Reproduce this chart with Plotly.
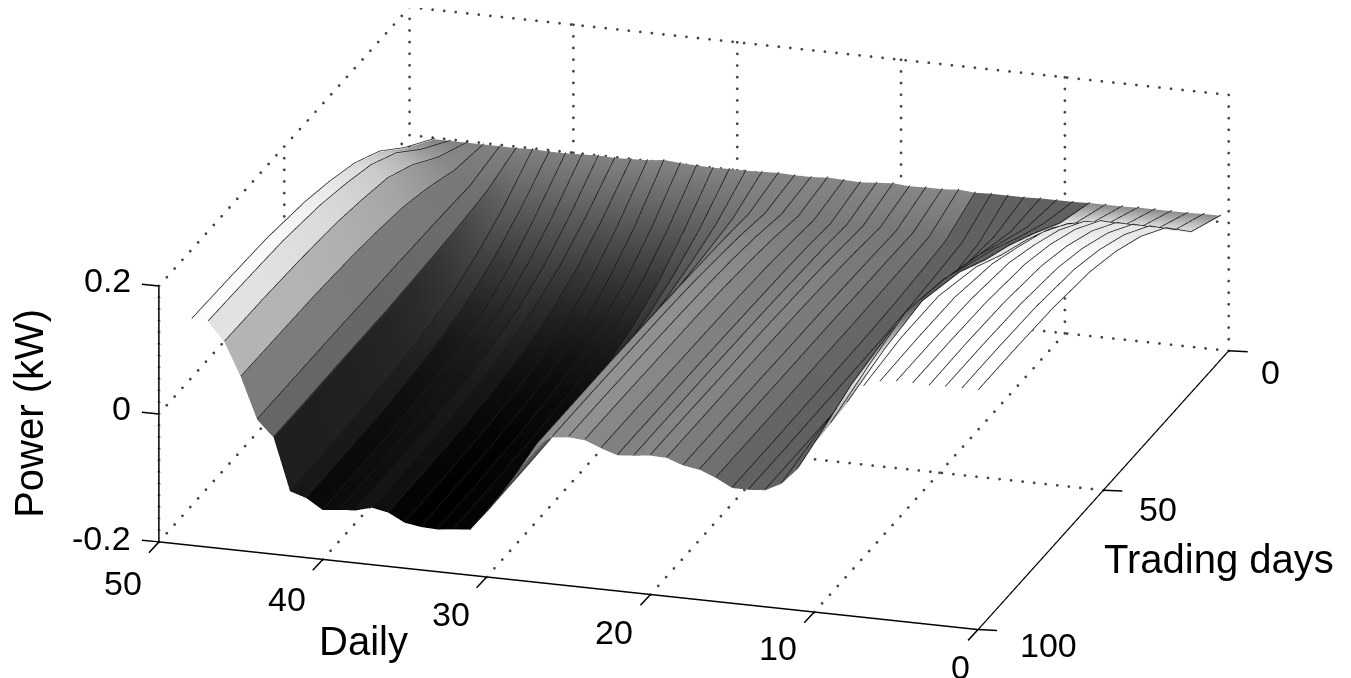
import numpy as np
import plotly.graph_objects as go

daily = list(range(49))
trading = [3, 15, 25, 35, 45, 55, 70, 85, 100]

z_y6 = [.024,.024,.023,.023,.023,.023,.022,.022,.022,.021,.021,.021,.020,.020,.020,.019,.021,.019,.019,.018,.020,.018,.016,.017,.018,.016,.016,.017,.016,.015,.015,.014,.015,.016,.018,.015,.014,.013,.014,.013,.012,.012,.013,.012,.012,.012,.012,.012,.012]
z_y15 = [.050,.050,.050,.050,.050,.050,.048,.045,.042,.038,.030,.020,.010,-.005,-.006,-.006,-.002,.001,.002,.004,.005,.004,.003,.006,.008,.009,.008,.004,-.007,-.018,-.028,-.036,-.037,-.038,-.037,-.036,-.032,-.031,-.033,-.034,-.034,-.030,-.028,-.005,.002,.022,.040,.050,.050]
z_y25 = [.100,.100,.100,.100,.100,.096,.090,.080,.070,.060,.050,.035,.015,-.010,-.011,-.011,-.004,.002,.004,.009,.009,.008,.007,.011,.017,.018,.016,.008,-.014,-.035,-.054,-.071,-.072,-.074,-.073,-.071,-.064,-.061,-.065,-.066,-.068,-.059,-.054,-.010,.004,.040,.072,.088,.088]
z_y35 = [.130,.130,.130,.130,.130,.126,.120,.105,.095,.085,.072,.050,.020,-.013,-.015,-.015,-.005,.002,.005,.012,.013,.010,.009,.015,.022,.024,.021,.010,-.019,-.047,-.073,-.095,-.097,-.099,-.098,-.095,-.086,-.082,-.087,-.089,-.091,-.079,-.073,-.013,.005,.053,.095,.113,.113]
z_y45 = [.150,.150,.150,.150,.150,.146,.140,.125,.115,.105,.088,.060,.030,-.015,-.017,-.017,-.006,.003,.006,.014,.014,.012,.010,.017,.026,.027,.025,.012,-.022,-.054,-.084,-.110,-.111,-.114,-.113,-.110,-.099,-.094,-.100,-.102,-.105,-.091,-.084,-.015,.006,.060,.105,.127,.128]
z_y55 = [.163,.163,.163,.163,.163,.162,.158,.150,.140,.125,.100,.070,.030,-.017,-.018,-.018,-.006,.003,.006,.015,.016,.013,.011,.018,.028,.029,.027,.013,-.024,-.059,-.091,-.119,-.121,-.123,-.122,-.119,-.107,-.102,-.109,-.110,-.113,-.098,-.091,-.017,.006,.065,.113,.138,.139]
z_y70 = [.171,.171,.171,.171,.171,.171,.171,.170,.160,.140,.105,.065,.020,-.017,-.019,-.019,-.007,.003,.007,.016,.016,.014,.012,.019,.029,.031,.028,.014,-.025,-.062,-.096,-.125,-.127,-.130,-.129,-.125,-.113,-.108,-.114,-.116,-.119,-.104,-.096,-.017,.007,.069,.119,.147,.148]
z_y85 = [.173,.173,.173,.173,.173,.173,.172,.170,.150,.120,.090,.045,.010,-.018,-.020,-.020,-.007,.003,.007,.016,.017,.014,.012,.020,.030,.032,.029,.014,-.026,-.063,-.098,-.128,-.130,-.133,-.132,-.128,-.115,-.110,-.117,-.119,-.122,-.106,-.098,-.018,.007,.070,.122,.150,.151]
z_y100 = [.173,.173,.173,.172,.173,.173,.170,.160,.132,.097,.063,.021,-.005,-.018,-.020,-.020,-.007,.003,.007,.016,.017,.014,.012,.020,.030,.032,.029,.014,-.026,-.064,-.099,-.129,-.131,-.134,-.133,-.129,-.116,-.111,-.118,-.120,-.123,-.107,-.099,-.018,.007,.071,.123,.152,.153]

fold_columns = [8, 9, 10, 11, 12, 13, 14]
fold_shade = 0.38
white_columns = [0, 1, 2, 3, 4, 5, 6, 7]
white_shade = 0.9

x_ticks = [0, 10, 20, 30, 40, 50]
y_ticks = [0, 50, 100]
z_ticks = [-0.2, 0, 0.2]
z_labels = ["-0.2", "0", "0.2"]

Z = np.array([z_y6, z_y15, z_y25, z_y35, z_y45, z_y55, z_y70, z_y85, z_y100])
C = np.clip((Z + 0.134) / 0.29, 0, 1)
C[:, fold_columns] = np.minimum(C[:, fold_columns], fold_shade)
C[1:, white_columns] = np.maximum(C[1:, white_columns], white_shade)
C[7, 8], C[7, 9] = 0.95, 0.9
C[8, 8], C[8, 9] = 0.6, 0.6

n = len(daily)
xs, zi, ci = [], [], []
for i in range(n):
    if i > 0:
        xs.append(daily[i] - 1e-3); zi.append(i); ci.append(i - 1)
    xs.append(daily[i]); zi.append(i); ci.append(i)

fig = go.Figure()
fig.add_trace(go.Surface(
    x=xs, y=trading, z=Z[:, zi], surfacecolor=C[:, ci],
    cmin=0, cmax=1, showscale=False, hoverinfo="skip",
    colorscale=[[0, "#000000"], [1, "#ffffff"]],
    lighting=dict(ambient=1, diffuse=0, specular=0, fresnel=0, roughness=1),
))

# waterfall lines, one per Daily column, lifted a hair so they sit on the surface
line_lift = 0.0015
lx, ly, lz = [], [], []
for col in range(n):
    lx += [daily[col]] * len(trading) + [None]
    ly += trading + [None]
    lz += [float(v) + line_lift for v in Z[:, col]] + [None]
fig.add_trace(go.Scatter3d(x=lx, y=ly, z=lz, mode="lines", hoverinfo="skip", showlegend=False,
                           line=dict(color="#1a1a1a", width=1.5)))

gx, gy, gz = [], [], []
def dotted(a, b, count):
    for t in np.linspace(0, 1, count):
        gx.append(a[0] + (b[0] - a[0]) * t)
        gy.append(a[1] + (b[1] - a[1]) * t)
        gz.append(a[2] + (b[2] - a[2]) * t)

zlo, zhi = z_ticks[0], z_ticks[-1]
xhi, yhi = x_ticks[-1], y_ticks[-1]
for xv in x_ticks:
    dotted((xv, 0, zlo), (xv, 0, zhi), 23)
    if xv > 0:
        dotted((xv, 0, zlo), (xv, yhi, zlo), 33)
for yv in y_ticks[:-1]:
    dotted((xhi, yv, zlo), (xhi, yv, zhi), 23)
    dotted((0, yv, zlo), (xhi, yv, zlo), 72)
dotted((xhi, yhi, zlo), (xhi, yhi, zhi), 23)
for zv in z_ticks[1:]:
    dotted((0, 0, zv), (xhi, 0, zv), 72)
for zv in z_ticks:
    dotted((xhi, 0, zv), (xhi, yhi, zv), 33)
fig.add_trace(go.Scatter3d(x=gx, y=gy, z=gz, mode="markers", hoverinfo="skip", showlegend=False,
                           marker=dict(color="#444444", size=1.6, symbol="circle", line=dict(width=0))))

font = dict(family="Liberation Sans, Arial, sans-serif", size=34, color="black")
title_font = dict(family="Liberation Sans, Arial, sans-serif", size=40, color="black")
def axis(rng, vals):
    return dict(title=dict(text=""), range=rng, tickmode="array", tickvals=vals, showticklabels=False,
                showgrid=False, zeroline=False, showbackground=False, showspikes=False,
                showline=True, linecolor="black", linewidth=3, ticks="", autorange=False)

notes = []
def note(x, y, z, text, dx, dy, angle=0, f=font, anchor="center"):
    notes.append(dict(x=x, y=y, z=z, text=text, showarrow=False, font=f, textangle=angle,
                      xanchor=anchor, yanchor="middle", xshift=dx, yshift=dy))
def tick(x, y, z, ax, ay):
    notes.append(dict(x=x, y=y, z=z, text=" ", showarrow=True, arrowhead=0, arrowwidth=1.5,
                      arrowcolor="black", ax=ax, ay=ay, standoff=0, startstandoff=0))
for xv, dy in zip(x_ticks, [-37, -36, -37, -37, -40, -41]):
    note(xv, yhi, zlo, str(xv), -18 if xv == 0 else -36, dy, anchor="center")
    tick(xv, yhi, zlo, -13, 14)
for yv, dx, dy in zip(y_ticks, [30, 34, 40], [-21, -19, -15]):
    note(0, yv, zlo, str(yv), dx, dy, anchor="left")
    tick(0, yv, zlo, 22, 1)
for zv, lb, dy in zip(z_ticks, z_labels, [4, 6, 6]):
    note(xhi, yhi, zv, lb, -26, dy, anchor="right")
    tick(xhi, yhi, zv, -20, -2)
note(25, yhi, zlo, "Daily", -205, -55, f=title_font)
note(0, 50, zlo, "Trading days", 116, -69, f=title_font)
note(xhi, yhi, 0, "Power (kW)", -130, 1, -90, f=title_font)

scale = 2.53
d = 3.0
direction = (-0.278, 0.896, 0.345)
center = (0.021, 0.035, -0.080)
fig.update_layout(
    width=1351, height=678, margin=dict(l=0, r=0, t=0, b=0), paper_bgcolor="white",
    showlegend=False,
    scene=dict(
        domain=dict(x=[0, 1], y=[0, 1]),
        xaxis=axis([0, 50], x_ticks),
        yaxis=axis([0, 100], y_ticks),
        zaxis=axis([zlo, zhi], z_ticks),
        aspectmode="manual", aspectratio=dict(x=scale, y=0.986 * scale, z=0.318 * scale),
        annotations=notes,
        camera=dict(projection=dict(type="orthographic"),
                    eye=dict(x=center[0] + direction[0] * d, y=center[1] + direction[1] * d, z=center[2] + direction[2] * d),
                    up=dict(x=0, y=0, z=1), center=dict(x=center[0], y=center[1], z=center[2])),
    ),
)
fig.write_html("out.html")
